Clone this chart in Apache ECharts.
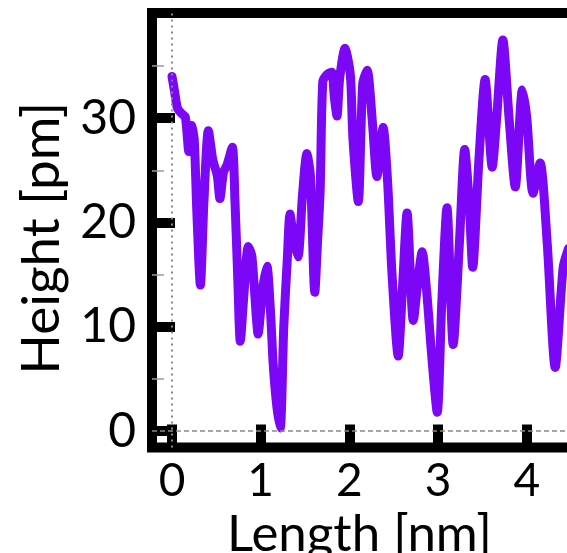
<!DOCTYPE html>
<html>
<head>
<meta charset="utf-8">
<script src="https://cdn.jsdelivr.net/npm/echarts@6/dist/echarts.min.js"></script>
<style>
  html, body { margin: 0; padding: 0; background: #fff; }
  #chart { width: 567px; height: 553px; }
</style>
</head>
<body>
<div id="chart"></div>
<script>
// Height profile along the scan line
const lengthNm = [
  0.00, 0.03, 0.06, 0.10, 0.15, 0.19, 0.22, 0.25, 0.28, 0.32,
  0.36, 0.41, 0.46, 0.51, 0.54, 0.58, 0.62, 0.68, 0.71, 0.74,
  0.77, 0.81, 0.86, 0.90, 0.95, 0.97, 1.02, 1.07, 1.11, 1.14,
  1.18, 1.22, 1.26, 1.30, 1.33, 1.37, 1.42, 1.47, 1.52, 1.56,
  1.61, 1.64, 1.67, 1.70, 1.75, 1.80, 1.83, 1.86, 1.89, 1.95,
  2.01, 2.04, 2.10, 2.15, 2.20, 2.26, 2.31, 2.38, 2.43, 2.48,
  2.55, 2.60, 2.65, 2.72, 2.78, 2.82, 2.87, 2.93, 2.99, 3.04,
  3.10, 3.17, 3.24, 3.30, 3.35, 3.39, 3.46, 3.53, 3.61, 3.66,
  3.73, 3.80, 3.87, 3.95, 4.00, 4.07, 4.15, 4.23, 4.32, 4.41,
  4.47
];
const heightPm = [
  34.0, 32.5, 31.0, 30.5, 30.1, 26.8, 29.3, 28.0, 21.0, 14.0,
  22.0, 28.8, 26.0, 24.5, 22.3, 24.8, 25.5, 27.2, 22.0, 15.0,
  8.6, 13.0, 17.7, 16.8, 11.0, 9.3, 13.5, 15.8, 11.5, 6.5,
  2.5, 0.3, 10.0, 16.5, 20.8, 18.5, 16.7, 22.5, 26.6, 24.5,
  13.3, 18.0, 23.0, 33.5, 34.2, 34.4, 32.0, 30.2, 33.8, 36.7,
  34.2, 28.0, 22.0, 33.3, 34.6, 29.5, 24.4, 29.1, 24.0, 15.1,
  7.2, 14.0, 20.9, 10.6, 15.0, 17.2, 13.5, 7.0, 1.8, 12.0,
  21.4, 8.3, 18.0, 27.0, 22.0, 15.7, 26.0, 33.7, 25.3, 30.0,
  37.5, 30.0, 23.4, 32.7, 30.0, 22.8, 25.7, 18.0, 6.1, 15.7,
  17.5
];
const xTickValues = [0, 1, 2, 3, 4];
const yTickValues = [0, 10, 20, 30];
const yMinorValues = [5, 15, 25, 35];

const xMin = -0.2255, xMax = 4.904;
const yMin = -1.58, yMax = 40.08;
const fontFamily = 'Lato';

const chart = echarts.init(document.getElementById('chart'), null, { renderer: 'canvas' });

chart.setOption({
  animation: false,
  backgroundColor: '#fff',
  grid: {
    left: 152, top: 13, right: -40, bottom: 105.5,
    containLabel: false, outerBoundsMode: 'none',
    show: true, borderColor: '#000', borderWidth: 10, backgroundColor: '#fff'
  },
  xAxis: {
    type: 'value', min: xMin, max: xMax,
    axisLine: { show: false, onZero: false },
    splitLine: { show: false },
    axisTick: {
      inside: true, length: 23, customValues: xTickValues,
      lineStyle: { color: '#000', width: 10 }
    },
    axisLabel: {
      customValues: xTickValues, margin: 11,
      fontSize: 46, fontFamily: fontFamily, color: '#000'
    },
    name: 'Length [nm]', nameLocation: 'middle', nameGap: 45,
    nameTextStyle: { fontSize: 51, fontFamily: fontFamily, color: '#000', padding: [0, 40, 0, 0] }
  },
  yAxis: [
    {
      type: 'value', min: yMin, max: yMax,
      axisLine: { show: false, onZero: false },
      splitLine: { show: false },
      axisTick: {
        inside: true, length: 23, customValues: yTickValues,
        lineStyle: { color: '#000', width: 10 }
      },
      axisLabel: {
        customValues: yTickValues, margin: 16,
        fontSize: 48, fontFamily: fontFamily, color: '#000'
      },
      name: 'Height [pm]', nameLocation: 'middle', nameGap: 84, nameRotate: 90,
      nameTextStyle: { fontSize: 53, fontFamily: fontFamily, color: '#000', padding: [0, 16, 0, 0] }
    },
    {
      type: 'value', min: yMin, max: yMax, position: 'left',
      axisLine: { show: false, onZero: false },
      splitLine: { show: false },
      axisLabel: { show: false },
      axisTick: {
        inside: true, length: 12, customValues: yMinorValues,
        lineStyle: { color: '#9a9a9a', width: 1.5 }
      }
    }
  ],
  series: [
    {
      // zero reference lines, drawn beneath the profile
      type: 'line', data: [], z: 1, silent: true,
      markLine: {
        silent: true, symbol: 'none', label: { show: false },
        data: [
          { xAxis: 0, lineStyle: { color: '#8a8a8a', type: [2, 4], width: 2 } },
          { yAxis: 0, lineStyle: { color: '#8a8a8a', type: [5, 3], width: 1.5 } }
        ]
      }
    },
    {
      type: 'line', z: 3,
      data: lengthNm.map((x, i) => [x, heightPm[i]]),
      showSymbol: false, smooth: 0.25,
      lineStyle: { color: '#7c06f6', width: 9, cap: 'round', join: 'round' }
    }
  ]
});
</script>
</body>
</html>
